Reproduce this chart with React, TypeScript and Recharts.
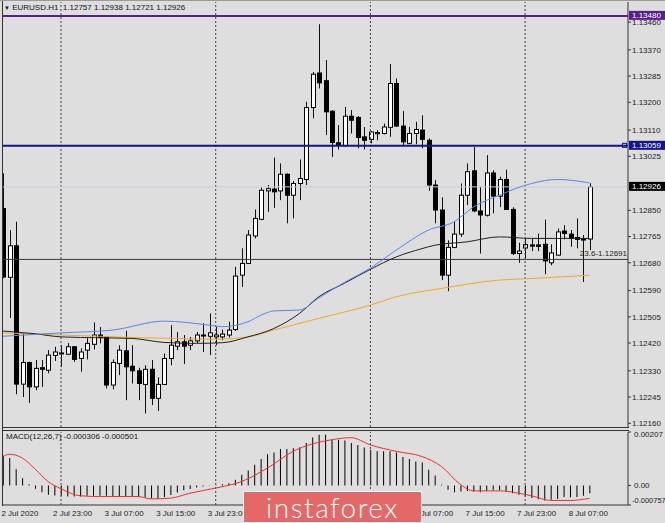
import React from 'react';
import { ComposedChart, Bar, Line, XAxis, YAxis, ReferenceLine } from 'recharts';

// EURUSD H1, one entry per hourly bar (2 Jul 14:00 .. 8 Jul 09:00)
const opens = [
  1.12856, 1.12633, 1.12735, 1.12287, 1.12357, 1.12278, 1.12340, 1.12332, 1.12380, 1.12386,
  1.12384, 1.12408, 1.12370, 1.12397, 1.12416, 1.12446, 1.12440, 1.12284, 1.12354, 1.12395,
  1.12345, 1.12330, 1.12286, 1.12335, 1.12241, 1.12286, 1.12370, 1.12410, 1.12424, 1.12413,
  1.12427, 1.12446, 1.12442, 1.12440, 1.12440, 1.12446, 1.12464, 1.12640, 1.12678, 1.12767,
  1.12821, 1.12913, 1.12919, 1.12913, 1.12967, 1.12899, 1.12937, 1.12950, 1.13183, 1.13295,
  1.13270, 1.13171, 1.13069, 1.13059, 1.13155, 1.13151, 1.13088, 1.13080, 1.13098, 1.13099,
  1.13119, 1.13261, 1.13123, 1.13067, 1.13099, 1.13110, 1.13077, 1.12932, 1.12851, 1.12640,
  1.12730, 1.12773, 1.12899, 1.12978, 1.12848, 1.12834, 1.12971, 1.12896, 1.12950, 1.12853,
  1.12710, 1.12728, 1.12738, 1.12738, 1.12740, 1.12680, 1.12705, 1.12783, 1.12773, 1.12762,
  1.12757, 1.12757,
];
const highs = [
  1.12970, 1.12786, 1.12813, 1.12452, 1.12360, 1.12365, 1.12365, 1.12397, 1.12408, 1.12413,
  1.12420, 1.12410, 1.12403, 1.12436, 1.12487, 1.12472, 1.12443, 1.12367, 1.12413, 1.12460,
  1.12413, 1.12340, 1.12348, 1.12365, 1.12309, 1.12386, 1.12478, 1.12456, 1.12446, 1.12440,
  1.12456, 1.12484, 1.12516, 1.12472, 1.12464, 1.12489, 1.12667, 1.12727, 1.12786, 1.12853,
  1.12924, 1.12932, 1.13021, 1.13002, 1.12970, 1.12945, 1.13015, 1.13202, 1.13298, 1.13453,
  1.13337, 1.13175, 1.13126, 1.13185, 1.13175, 1.13155, 1.13120, 1.13106, 1.13110, 1.13131,
  1.13324, 1.13277, 1.13172, 1.13120, 1.13137, 1.13158, 1.13083, 1.12948, 1.12892, 1.12753,
  1.12813, 1.12937, 1.13002, 1.13056, 1.12926, 1.13029, 1.12980, 1.12959, 1.12982, 1.12860,
  1.12745, 1.12759, 1.12759, 1.12775, 1.12820, 1.12740, 1.12791, 1.12802, 1.12786, 1.12824,
  1.12770, 1.12938,
];
const lows = [
  1.12630, 1.12501, 1.12254, 1.12245, 1.12226, 1.12267, 1.12278, 1.12322, 1.12362, 1.12343,
  1.12381, 1.12359, 1.12327, 1.12367, 1.12399, 1.12419, 1.12273, 1.12270, 1.12316, 1.12235,
  1.12289, 1.12235, 1.12192, 1.12219, 1.12200, 1.12284, 1.12348, 1.12397, 1.12352, 1.12397,
  1.12419, 1.12391, 1.12381, 1.12413, 1.12429, 1.12438, 1.12459, 1.12602, 1.12676, 1.12759,
  1.12818, 1.12845, 1.12858, 1.12883, 1.12808, 1.12824, 1.12883, 1.12932, 1.13148, 1.13245,
  1.13094, 1.13023, 1.13047, 1.13057, 1.13099, 1.13051, 1.13047, 1.13067, 1.13077, 1.13096,
  1.13088, 1.13120, 1.13061, 1.13064, 1.13064, 1.13051, 1.12913, 1.12808, 1.12624, 1.12588,
  1.12727, 1.12764, 1.12867, 1.12844, 1.12710, 1.12830, 1.12840, 1.12861, 1.12851, 1.12705,
  1.12680, 1.12694, 1.12718, 1.12718, 1.12643, 1.12672, 1.12703, 1.12756, 1.12732, 1.12727,
  1.12618, 1.12721,
];
const closes = [
  1.12634, 1.12735, 1.12287, 1.12357, 1.12278, 1.12338, 1.12335, 1.12381, 1.12391, 1.12388,
  1.12408, 1.12367, 1.12391, 1.12419, 1.12446, 1.12438, 1.12284, 1.12357, 1.12397, 1.12343,
  1.12330, 1.12289, 1.12335, 1.12241, 1.12286, 1.12370, 1.12413, 1.12424, 1.12410, 1.12427,
  1.12446, 1.12443, 1.12453, 1.12446, 1.12449, 1.12462, 1.12637, 1.12678, 1.12770, 1.12824,
  1.12915, 1.12920, 1.12910, 1.12967, 1.12899, 1.12937, 1.12953, 1.13183, 1.13291, 1.13263,
  1.13169, 1.13070, 1.13061, 1.13155, 1.13142, 1.13086, 1.13077, 1.13104, 1.13102, 1.13120,
  1.13261, 1.13123, 1.13072, 1.13099, 1.13112, 1.13080, 1.12932, 1.12851, 1.12640, 1.12730,
  1.12773, 1.12899, 1.12975, 1.12848, 1.12835, 1.12971, 1.12896, 1.12950, 1.12853, 1.12710,
  1.12718, 1.12739, 1.12734, 1.12733, 1.12686, 1.12712, 1.12780, 1.12775, 1.12759, 1.12756,
  1.12754, 1.12926,
];

// moving averages: [bar index, price]
const blueMa: [number, number][] = [
  [0, 1.12442], [9, 1.12453], [17, 1.12462], [25, 1.12491], [32, 1.12478], [34, 1.12473],
  [38, 1.12489], [40, 1.12510], [42, 1.12524], [46, 1.12527], [49, 1.12566], [53, 1.12617],
  [57, 1.12663], [61, 1.12721], [66, 1.12786], [70, 1.12813], [73, 1.12861], [77, 1.12899],
  [82, 1.12937], [86, 1.12950], [91, 1.12939],
];
const blackMa: [number, number][] = [
  [0, 1.12459], [5, 1.12450], [9, 1.12440], [15, 1.12437], [20, 1.12435], [25, 1.12422],
  [30, 1.12419], [34, 1.12421], [38, 1.12440], [42, 1.12467], [46, 1.12516], [49, 1.12570],
  [53, 1.12614], [57, 1.12659], [61, 1.12699], [65, 1.12726], [67, 1.12737], [72, 1.12748],
  [77, 1.12764], [82, 1.12759], [91, 1.12759],
];
const orangeMa: [number, number][] = [
  [0, 1.12453], [9, 1.12446], [15, 1.12442], [20, 1.12438], [27, 1.12435], [32, 1.12432],
  [38, 1.12440], [42, 1.12462], [49, 1.12500], [57, 1.12543], [61, 1.12570], [68, 1.12597],
  [77, 1.12624], [82, 1.12629], [91, 1.12640],
];

// MACD(12,26,7) main line (histogram), one per bar
const macdMain = [
  0.00115, 0.00106, 0.00063, 0.00028, 0.00005, -0.00013, -0.00026, -0.00036, -0.00039, -0.00040,
  -0.00043, -0.00043, -0.00043, -0.00040, -0.00040, -0.00040, -0.00040, -0.00043, -0.00043, -0.00043,
  -0.00043, -0.00045, -0.00047, -0.00050, -0.00052, -0.00045, -0.00037, -0.00027, -0.00019, -0.00014,
  -0.00008, -0.00004, -0.00001, 0.00001, 0.00005, 0.00009, 0.00022, 0.00041, 0.00058, 0.00080,
  0.00102, 0.00121, 0.00128, 0.00141, 0.00141, 0.00144, 0.00148, 0.00164, 0.00186, 0.00196,
  0.00196, 0.00177, 0.00177, 0.00174, 0.00164, 0.00157, 0.00147, 0.00138, 0.00132, 0.00132,
  0.00132, 0.00128, 0.00110, 0.00102, 0.00093, 0.00089, 0.00061, 0.00039, 0.00003, -0.00017,
  -0.00026, -0.00023, -0.00021, -0.00023, -0.00026, -0.00021, -0.00019, -0.00019, -0.00023, -0.00030,
  -0.00036, -0.00043, -0.00049, -0.00053, -0.00058, -0.00055, -0.00052, -0.00045, -0.00046, -0.00045,
  -0.00040, -0.000306,
];
const macdSignal: [number, number][] = [
  [0, 0.00112], [1, 0.00121], [3, 0.00106], [5, 0.00063], [7, 0.00015], [9, -0.00013],
  [12, -0.00040], [15, -0.00043], [21, -0.00043], [23, -0.00052], [26, -0.00049], [29, -0.00030],
  [33, -0.00010], [37, 0.00015], [41, 0.00067], [45, 0.00132], [51, 0.00177], [54, 0.00185],
  [57, 0.00157], [61, 0.00132], [65, 0.00112], [68, 0.00074], [71, 0.00003], [73, -0.00021],
  [77, -0.00021], [80, -0.00030], [82, -0.00040], [85, -0.00058], [88, -0.00058], [91, -0.000501],
];

const priceTicks = [
  1.1216, 1.12245, 1.1233, 1.1242, 1.12505, 1.1259, 1.1268, 1.12765, 1.1285,
  1.13025, 1.1311, 1.132, 1.13285, 1.1337, 1.1346,
];
const macdTicks = [-0.000757, 0, 0.00207];
const macdTickLabels = ['-0.000757', '0.00', '0.00207'];
// time labels every 8 bars; the 6 Jul ones sit under the watermark and are not visible
const timeTickBars = [1, 9, 17, 25, 33, 65, 73, 81, 89];
const timeTickLabels = [
  '2 Jul 2020', '2 Jul 23:00', '3 Jul 07:00', '3 Jul 15:00', '3 Jul 23:00',
  '7 Jul 07:00', '7 Jul 15:00', '7 Jul 23:00', '8 Jul 07:00',
];
const dayGridBars = [9, 33, 57, 81];

const resistanceLevel = 1.1348;
const supportLevel = 1.13059;
const fiboLevel = 1.12691;
const bidLevel = 1.12926;

const FONT = '"Liberation Sans", Arial, sans-serif';
const BG = '#dedede';

const pick = (pairs: [number, number][], i: number) => {
  const hit = pairs.find((p) => p[0] === i);
  return hit ? hit[1] : null;
};

const rows = opens.map((open, i) => ({
  i,
  open,
  close: closes[i],
  high: highs[i],
  low: lows[i],
  range: [lows[i], highs[i]],
  blue: pick(blueMa, i),
  black: pick(blackMa, i),
  orange: pick(orangeMa, i),
  hist: macdMain[i],
  signal: pick(macdSignal, i),
}));

const Candle = (props: any) => {
  const { x, y, width, height, payload } = props;
  if (x == null || y == null) return null;
  const { open, close, high, low } = payload;
  const cx = Math.round(x + width / 2) + 0.5;
  const span = high - low || 1e-9;
  const py = (v: number) => y + ((high - v) / span) * height;
  const top = py(Math.max(open, close));
  const bot = py(Math.min(open, close));
  const up = close >= open;
  return (
    <g>
      <line x1={cx} x2={cx} y1={y} y2={y + height} stroke="#111" strokeWidth={1} />
      <rect
        x={cx - 2}
        y={top}
        width={4}
        height={Math.max(bot - top, 1)}
        fill={up ? '#fff' : '#000'}
        stroke="#000"
        strokeWidth={1}
      />
    </g>
  );
};

const PriceTag = (props: any) => {
  const { viewBox, text, bg, marker } = props;
  if (!viewBox) return null;
  const right = viewBox.x + viewBox.width;
  const y = viewBox.y;
  return (
    <g>
      {marker && <rect x={right - 5.5} y={y - 2.5} width={4} height={4} fill="none" stroke={bg} />}
      <rect x={right + 1} y={y - 5} width={36} height={9} fill={bg} />
      <text x={right + 4} y={y + 2.5} fontSize={8} fontFamily={FONT} fill="#fff">
        {text}
      </text>
    </g>
  );
};

const FiboTag = (props: any) => {
  const { viewBox } = props;
  if (!viewBox) return null;
  return (
    <text x={viewBox.x + viewBox.width - 1} y={viewBox.y - 3} textAnchor="end" fontSize={8} fontFamily={FONT} fill="#222">
      23.6-1.12691
    </text>
  );
};

const MacdTick = (props: any) => {
  const { x, y, payload } = props;
  const v = payload.value;
  const label = macdTickLabels[macdTicks.indexOf(v)];
  const dy = v > 0 ? 5 : v < 0 ? -2 : 3;
  return (
    <text x={v < 0 ? x - 1 : x + 1} y={y + dy} fontSize={v < 0 ? 7.5 : 8} fontFamily={FONT} fill="#222">
      {label}
    </text>
  );
};

const TimeTick = (props: any) => {
  const { x, y, payload } = props;
  const idx = timeTickBars.indexOf(payload.value);
  return (
    <text x={x - 8} y={y + 11} fontSize={8} fontFamily={FONT} fill="#222">
      {timeTickLabels[idx]}
    </text>
  );
};

export default function App() {
  return (
    <div
      style={{
        position: 'absolute',
        left: 0,
        top: 0,
        width: 665,
        height: 523,
        background: BG,
        overflow: 'hidden',
        fontFamily: FONT,
      }}
    >
      {/* price window */}
      <ComposedChart
        width={665}
        height={429}
        data={rows}
        margin={{ top: 2, right: 0, bottom: 2, left: 3 }}
        style={{ position: 'absolute', left: 0, top: 0 }}
      >
        <XAxis type="number" dataKey="i" domain={[0, 96.96]} hide allowDataOverflow />
        <YAxis
          orientation="right"
          width={37}
          domain={[1.12148, 1.13525]}
          allowDataOverflow
          ticks={priceTicks}
          interval={0}
          tickFormatter={(v: number) => v.toFixed(5)}
          tick={{ fontSize: 8, fill: '#222', fontFamily: FONT }}
          tickSize={3}
          tickMargin={1}
          axisLine={{ stroke: '#333' }}
          tickLine={{ stroke: '#333' }}
        />
        {dayGridBars.map((b) => (
          <ReferenceLine key={b} x={b} stroke="#444" strokeDasharray="2 2" />
        ))}
        <ReferenceLine y={bidLevel} stroke="#cacae6" />
        <ReferenceLine y={fiboLevel} stroke="#3a3a3a" label={<FiboTag />} />
        <Bar dataKey="range" barSize={5} shape={<Candle />} isAnimationActive={false} />
        <Line dataKey="orange" stroke="#f5a623" dot={false} connectNulls type="monotone" isAnimationActive={false} />
        <Line dataKey="black" stroke="#222" dot={false} connectNulls type="monotone" isAnimationActive={false} />
        <Line dataKey="blue" stroke="#5a86e8" dot={false} connectNulls type="monotone" isAnimationActive={false} />
        <ReferenceLine y={resistanceLevel} stroke="#5a1e8e" strokeWidth={2} label={<PriceTag text="1.13480" bg="#5a1e8e" />} />
        <ReferenceLine y={supportLevel} stroke="#14148c" strokeWidth={2} label={<PriceTag text="1.13059" bg="#14148c" marker />} />
        <ReferenceLine y={bidLevel} stroke="none" label={<PriceTag text="1.12926" bg="#000" />} />
      </ComposedChart>

      {/* MACD window */}
      <ComposedChart
        width={665}
        height={96}
        data={rows}
        margin={{ top: 5, right: 0, bottom: 0, left: 3 }}
        style={{ position: 'absolute', left: 0, top: 427 }}
      >
        <XAxis
          type="number"
          dataKey="i"
          domain={[0, 96.96]}
          allowDataOverflow
          ticks={timeTickBars}
          interval={0}
          height={18}
          tick={<TimeTick />}
          tickSize={0}
          tickMargin={0}
          axisLine={{ stroke: '#333' }}
        />
        <YAxis
          orientation="right"
          width={37}
          domain={[-0.000757, 0.00207]}
          allowDataOverflow
          ticks={macdTicks}
          interval={0}
          tick={<MacdTick />}
          tickSize={3}
          axisLine={{ stroke: '#333' }}
          tickLine={{ stroke: '#333' }}
        />
        {dayGridBars.map((b) => (
          <ReferenceLine key={b} x={b} stroke="#444" strokeDasharray="2 2" />
        ))}
        <Bar dataKey="hist" barSize={1} fill="#000" isAnimationActive={false} />
        <Line dataKey="signal" stroke="#f03030" dot={false} connectNulls type="monotone" isAnimationActive={false} />
      </ComposedChart>

      {/* window frame */}
      <div style={{ position: 'absolute', left: 0, top: 0, width: 665, height: 1, background: '#9a9a9a' }} />
      <div style={{ position: 'absolute', left: 2, top: 1, width: 1, height: 505, background: '#333' }} />
      <div style={{ position: 'absolute', left: 2, top: 427, width: 627, height: 1, background: '#333' }} />
      <div style={{ position: 'absolute', left: 2, top: 430, width: 627, height: 1, background: '#333' }} />

      {/* header */}
      <div style={{ position: 'absolute', left: 4, top: 3, fontSize: 8, color: '#111', whiteSpace: 'nowrap' }}>
        <span style={{ fontSize: 6 }}>▼</span> EURUSD.H1&nbsp; 1.12757 1.12938 1.12721 1.12926
      </div>
      <div style={{ position: 'absolute', left: 6, top: 432, fontSize: 8, color: '#111', whiteSpace: 'nowrap' }}>
        MACD(12,26,7) -0.000306 -0.000501
      </div>

      {/* watermark */}
      <div
        style={{
          position: 'absolute',
          left: 243,
          top: 491,
          width: 177,
          height: 30,
          background: '#e46868',
          border: '1px solid #f4f4f4',
          color: '#fff',
          fontFamily: 'Lato, sans-serif',
          fontWeight: 300,
          fontSize: 28,
          lineHeight: '30px',
          textAlign: 'center',
          letterSpacing: 1.5,
        }}
      >
        instaforex
      </div>
    </div>
  );
}
